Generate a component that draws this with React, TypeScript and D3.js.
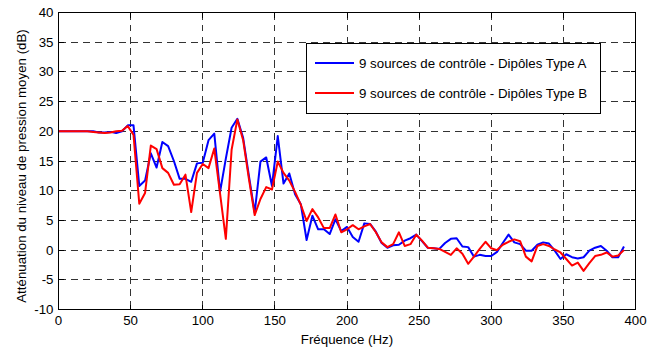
import React from 'react';
import * as d3 from 'd3';

const FREQ = [
  0, 4, 8, 12, 16, 20, 24, 28, 32, 36, 40, 44, 48,
  52, 56, 60, 64, 68, 72, 76, 80, 84, 88, 92, 96, 100,
  104, 108, 112, 116, 120, 124, 128, 132, 136, 140, 144, 148, 152,
  156, 160, 164, 168, 172, 176, 180, 184, 188, 192, 196, 200, 204,
  208, 212, 216, 220, 224, 228, 232, 236, 240, 244, 248, 252, 256,
  260, 264, 268, 272, 276, 280, 284, 288, 292, 296, 300, 304, 308,
  312, 316, 320, 324, 328, 332, 336, 340, 344, 348, 352, 356, 360,
  364, 368, 372, 376, 380, 384, 388, 392,
];

const TYPE_A = [
  20, 20, 20, 20, 20, 20, 20, 19.8, 19.8, 19.9, 19.7, 20.0, 21.0,
  21.0, 10.8, 11.7, 16.3, 13.9, 18.2, 17.5, 15.0, 12.0, 12.0, 11.5, 14.6, 14.7,
  18.5, 19.6, 9.8, 15.4, 20.6, 22.1, 18.9, 12.5, 6.3, 14.9, 15.6, 10.8, 19.2,
  11.2, 12.9, 9.4, 7.7, 1.7, 5.8, 3.5, 3.5, 2.7, 5.2, 3.2, 3.9, 2.2,
  1.4, 4.5, 4.4, 3.1, 1.2, 0.4, 0.8, 0.9, 1.6, 2.0, 2.6, 1.5, 0.4,
  0.3, 0.2, 1.2, 1.9, 2.0, 0.6, 0.5, -1.1, -0.8, -1.0, -1.0, -0.3, 1.2,
  2.6, 1.3, 1.0, -0.1, -0.1, 0.9, 1.3, 1.1, -0.1, -1.5, -0.7, -1.2, -1.4,
  -1.2, -0.1, 0.4, 0.7, -0.1, -1.2, -1.2, 0.6,
];

const TYPE_B = [
  20, 20, 20, 20, 20, 20, 19.9, 19.8, 19.7, 19.8, 20.0, 20.1, 20.9,
  19.4, 7.8, 9.6, 17.6, 17.0, 13.8, 13.0, 11.0, 11.1, 12.7, 6.4, 13.0, 14.5,
  13.8, 17.1, 9.5, 1.9, 16.9, 22.0, 18.5, 12.0, 5.9, 8.6, 10.6, 10.2, 14.9,
  13.0, 11.7, 9.8, 7.6, 4.9, 6.9, 5.5, 3.7, 3.7, 6.0, 3.0, 3.5, 4.2,
  3.5, 4.0, 4.4, 3.0, 1.3, 0.5, 1.0, 3.0, 0.7, 1.0, 2.6, 1.6, 0.4,
  0.3, 0.2, -0.3, -0.8, 0.3, -0.6, -2.3, -1.1, 0.2, 1.4, 0.3, 0.0, 0.9,
  1.4, 1.8, 1.5, -1.1, -1.9, 0.7, 1.0, 0.7, 0.1, -0.4, -1.5, -2.6, -2.1,
  -3.5, -2.2, -1.0, -0.8, -0.4, -1.1, -0.9, 0.0,
];

const X_TICKS = [0, 50, 100, 150, 200, 250, 300, 350, 400];
const Y_TICKS = [-10, -5, 0, 5, 10, 15, 20, 25, 30, 35, 40];
const SERIES_NAMES = [
  '9 sources de contrôle - Dipôles Type A',
  '9 sources de contrôle - Dipôles Type B',
];
const SERIES_COLORS = ['#0000ff', '#ff0000'];
const X_LABEL = 'Fréquence (Hz)';
const Y_LABEL = 'Atténuation du niveau de pression moyen (dB)';

export default function App() {
  const W = 659;
  const H = 348;
  const L = 58.5, R = 635.5, T = 12.5, B = 309.5;
  const x = d3.scaleLinear().domain([0, 400]).range([L, R]);
  const y = d3.scaleLinear().domain([-10, 40]).range([B, T]);
  const line = d3
    .line<number>()
    .x((_, i) => x(FREQ[i]))
    .y((d) => y(d));
  const font = '"Liberation Sans", Arial, sans-serif';
  const fs = 13.3;
  const series = [TYPE_A, TYPE_B];
  const snap = (v: number) => Math.round(v - 0.5) + 0.5;

  const lx0 = 306.5, ly0 = 43.5, lx1 = 600.5, ly1 = 113.5;

  return (
    <svg
      width={W}
      height={H}
      style={{ position: 'absolute', left: 0, top: 0, background: '#fff' }}
      fontFamily={font}
    >
      <rect x={0} y={0} width={W} height={H} fill="#fff" />
      <g stroke="#333" strokeWidth={1} strokeDasharray="7,5" shapeRendering="crispEdges">
        {X_TICKS.slice(1, -1).map((t) => (
          <line key={'gx' + t} x1={snap(x(t))} x2={snap(x(t))} y1={T} y2={B} />
        ))}
        {Y_TICKS.slice(1, -1).map((t) => (
          <line key={'gy' + t} x1={L} x2={R} y1={snap(y(t))} y2={snap(y(t))} />
        ))}
      </g>
      <g stroke="#000" strokeWidth={1} shapeRendering="crispEdges">
        {X_TICKS.map((t) => (
          <g key={'tx' + t}>
            <line x1={snap(x(t))} x2={snap(x(t))} y1={B} y2={B - 5} />
            <line x1={snap(x(t))} x2={snap(x(t))} y1={T} y2={T + 5} />
          </g>
        ))}
        {Y_TICKS.map((t) => (
          <g key={'ty' + t}>
            <line x1={L} x2={L + 5} y1={snap(y(t))} y2={snap(y(t))} />
            <line x1={R} x2={R - 5} y1={snap(y(t))} y2={snap(y(t))} />
          </g>
        ))}
      </g>
      {series.map((s, i) => (
        <path
          key={'s' + i}
          d={line(s) || ''}
          fill="none"
          stroke={SERIES_COLORS[i]}
          strokeWidth={2}
          strokeLinejoin="round"
        />
      ))}
      <rect x={L} y={T} width={R - L} height={B - T} fill="none" stroke="#000" strokeWidth={1} shapeRendering="crispEdges" />
      <g fontSize={fs} fill="#000">
        {X_TICKS.map((t) => (
          <text key={'lx' + t} x={x(t)} y={B + 15} textAnchor="middle">
            {t}
          </text>
        ))}
        {Y_TICKS.map((t) => (
          <text key={'ly' + t} x={L - 5} y={y(t) + 4.5} textAnchor="end">
            {t}
          </text>
        ))}
      </g>
      <text x={(L + R) / 2} y={344} textAnchor="middle" fontSize={fs} fill="#000">
        {X_LABEL}
      </text>
      <text
        transform={`translate(26,${(T + B) / 2 + 5}) rotate(-90)`}
        textAnchor="middle"
        fontSize={fs}
        fill="#000"
      >
        {Y_LABEL}
      </text>
      <rect x={lx0} y={ly0} width={lx1 - lx0} height={ly1 - ly0} fill="#fff" stroke="#000" strokeWidth={1} shapeRendering="crispEdges" />
      {SERIES_NAMES.map((name, i) => {
        const ly = 63 + i * 30;
        return (
          <g key={'lg' + i}>
            <line x1={315} x2={354} y1={ly} y2={ly} stroke={SERIES_COLORS[i]} strokeWidth={2} />
            <text x={359} y={ly + 4.5} fontSize={fs} fill="#000">
              {name}
            </text>
          </g>
        );
      })}
    </svg>
  );
}
